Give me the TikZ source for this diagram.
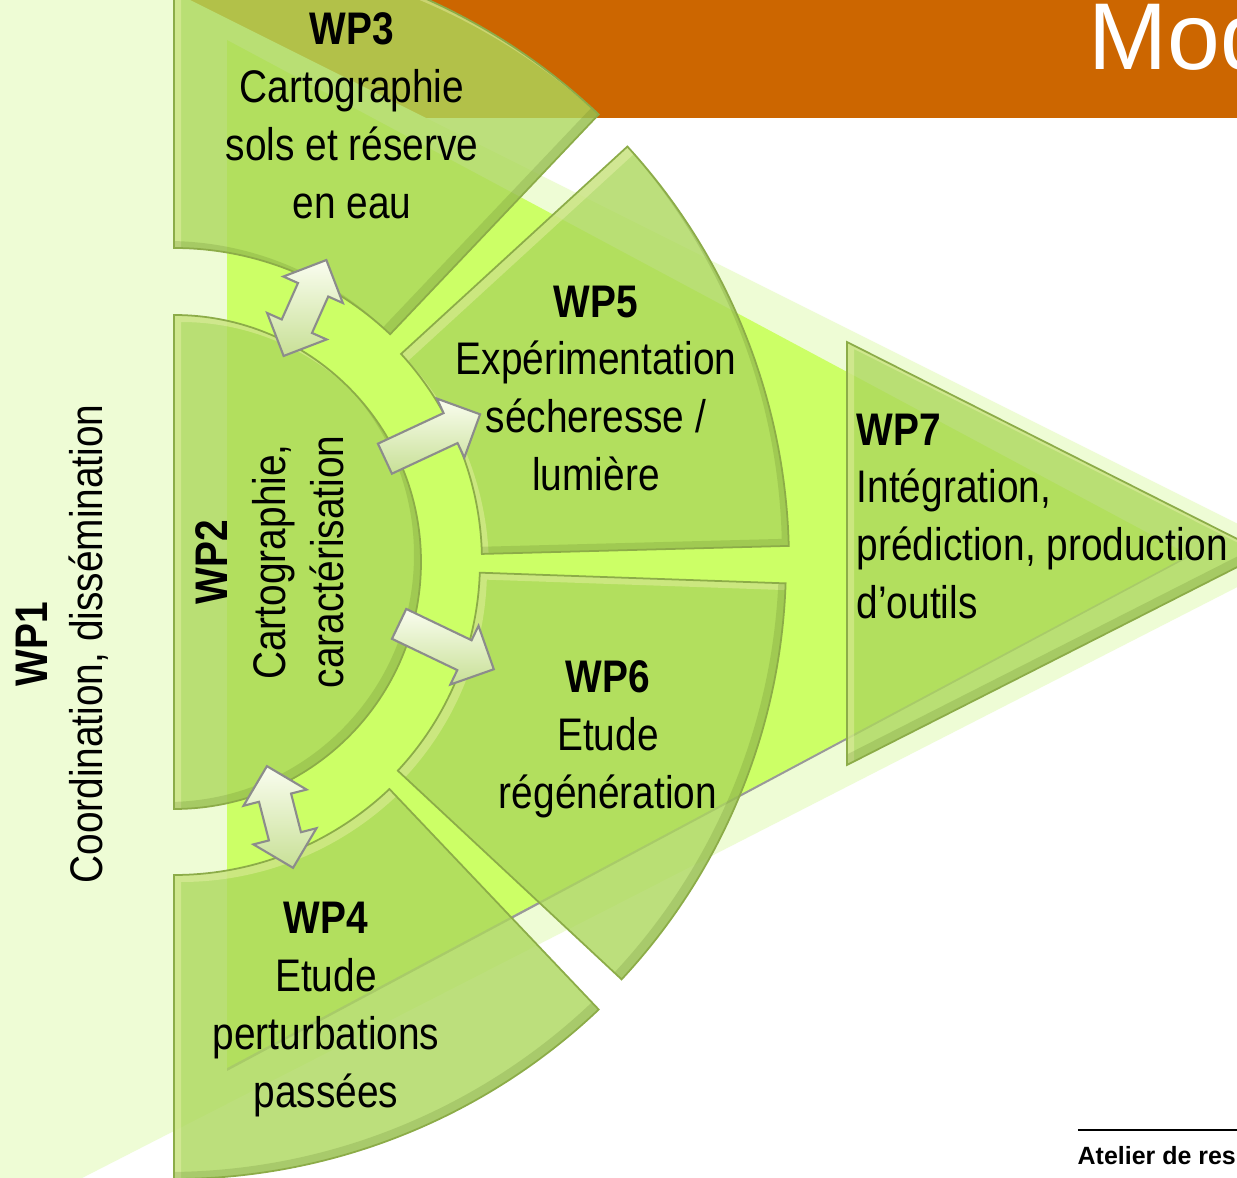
\documentclass[tikz,border=0pt]{standalone}
\usepackage{fontspec}
\setmainfont[FakeStretch=0.85]{Liberation Sans}
\newfontfamily\titlefont{Liberation Sans}
\usetikzlibrary{calc, shapes.arrows}
\definecolor{headerorange}{RGB}{204,102,0}
\definecolor{palegreen}{RGB}{238,252,213}
\definecolor{limegreen}{RGB}{204,255,102}
\definecolor{wpgreen}{RGB}{172,216,92}
\definecolor{edgegreen}{RGB}{140,172,72}
\definecolor{lightbevel}{RGB}{250,248,190}
\definecolor{darkbevel}{RGB}{80,110,30}
\definecolor{arrowlight}{RGB}{250,253,240}
\definecolor{arrowdark}{RGB}{200,224,150}

% ring segment around the hub: offset, inner radius, outer radius, from, to
\newcommand{\sectorpath}[5]{($(hub)+(#1)+(#4:#2)$) arc[start angle=#4, end angle=#5, radius=#2]
    -- ($(hub)+(#1)+(#5:#3)$) arc[start angle=#5, end angle=#4, radius=#3] -- cycle}
% half disk on the hub: offset, radius
\newcommand{\halfdiskpath}[2]{($(hub)+(#1)+(90:#2)$) arc[start angle=90, end angle=-90, radius=#2] -- cycle}
% output wedge: offset
\newcommand{\wedgepath}[1]{($(8.47,-3.42)+(#1)$) -- ($(12.65,-5.53)+(#1)$) -- ($(8.47,-7.65)+(#1)$) -- cycle}
% filled shape with a bevelled rim
\newcommand{\wpshape}[2]{%
    \fill[wpbody] #1{0,0}#2;
    \begin{scope}
        \clip #1{0,0}#2;
        \fill[bevel top, even odd rule] (-1,1) rectangle (14,-13) #1{0.07,-0.07}#2;
        \fill[bevel bottom, even odd rule] (-1,1) rectangle (14,-13) #1{-0.07,0.07}#2;
    \end{scope}
    \draw[wpline] #1{0,0}#2;}

\begin{document}
\begin{tikzpicture}[
    wpbody/.style={fill=wpgreen, fill opacity=0.8},
    bevel top/.style={fill=lightbevel, fill opacity=0.35},
    bevel bottom/.style={fill=darkbevel, fill opacity=0.18},
    wpline/.style={draw=edgegreen, line width=0.5pt},
    wplabel/.style={align=center, inner sep=0pt, font=\fontsize{13}{16.5}\selectfont},
    flowarrow/.style={single arrow, draw=black!45, line width=0.6pt, top color=arrowlight, bottom color=arrowdark,
        minimum height=1.05cm, minimum width=0.63cm, single arrow head extend=0.16cm,
        inner xsep=0pt, inner ysep=0.155cm},
    linkarrow/.style={double arrow, draw=black!45, line width=0.6pt, top color=arrowlight, bottom color=arrowdark,
        minimum height=1.05cm, minimum width=0.63cm, double arrow head extend=0.16cm,
        inner xsep=0pt, inner ysep=0.155cm}
]
    \useasboundingbox (0,0) rectangle (12.37,-11.78);
    \clip (0,0) rectangle (12.37,-11.78);
    \fill[white] (0,0) rectangle (12.37,-11.78);

    % Background
    \fill[headerorange] (0,0) rectangle (12.37,-1.18);
    \fill[palegreen] (0,0.95) -- (13.0,-5.55) -- (0,-12.2) -- cycle;
    \fill[black!40] (2.27,-0.42) -- (11.89,-5.57) -- (2.27,-10.71) -- cycle;
    \fill[limegreen] (2.27,-0.40) -- (11.89,-5.55) -- (2.27,-10.68) -- cycle;

    \coordinate (hub) at (1.74,-5.62);

    % Work packages
    \wpshape{\sectorpath}{{3.14}{6.17}{46.5}{90}}
    \wpshape{\sectorpath}{{3.08}{6.15}{1.5}{42.5}}
    \wpshape{\sectorpath}{{3.06}{6.12}{-2}{-43}}
    \wpshape{\sectorpath}{{3.13}{6.17}{-46.5}{-90}}
    \wpshape{\halfdiskpath}{{2.47}}
    \wpshape{\wedgepath}{}

    % Links
    \node[linkarrow, rotate=66]    (wp2wp3) at (3.05,-3.08) {};
    \node[flowarrow, rotate=25]    (wp2wp5) at (4.25,-4.40) {};
    \node[flowarrow, rotate=-25.6] (wp2wp6) at (4.39,-6.43) {};
    \node[linkarrow, rotate=-75.6] (wp2wp4) at (2.80,-8.17) {};

    % Labels
    \node[wplabel, rotate=90, font=\fontsize{13}{15.6}\selectfont] (wp1) at (0.62,-6.44)
        {\textbf{WP1}\\Coordination, dissémination};
    \node[wplabel, rotate=90] (wp2) at (2.70,-5.62) {\textbf{WP2}\\Cartographie,\\caractérisation};
    \node[wplabel] (wp3) at (3.52,-1.155) {\textbf{WP3}\\Cartographie\\sols et réserve\\en eau};
    \node[wplabel] (wp5) at (5.96,-3.885) {\textbf{WP5}\\Expérimentation\\sécheresse /\\lumière};
    \node[wplabel] (wp6) at (6.08,-7.39) {\textbf{WP6}\\Etude\\régénération};
    \node[wplabel] (wp4) at (3.26,-10.10) {\textbf{WP4}\\Etude\\perturbations\\passées};
    \node[wplabel, align=left, anchor=west] (wp7) at (8.56,-5.165)
        {\textbf{WP7}\\Intégration,\\prédiction, production\\d’outils};

    % Header and footer
    \node[anchor=base west, inner sep=0pt, text=white, font=\titlefont\fontsize{27}{32}\selectfont]
        (title) at (10.88,-0.70) {Mod};
    \node[anchor=base west, inner sep=0pt, font=\titlefont\bfseries\fontsize{7.1}{8}\selectfont]
        (footer) at (10.77,-11.65) {Atelier de res};
    \draw[line width=0.8pt] (10.78,-11.30) -- (12.37,-11.30);
\end{tikzpicture}
\end{document}
